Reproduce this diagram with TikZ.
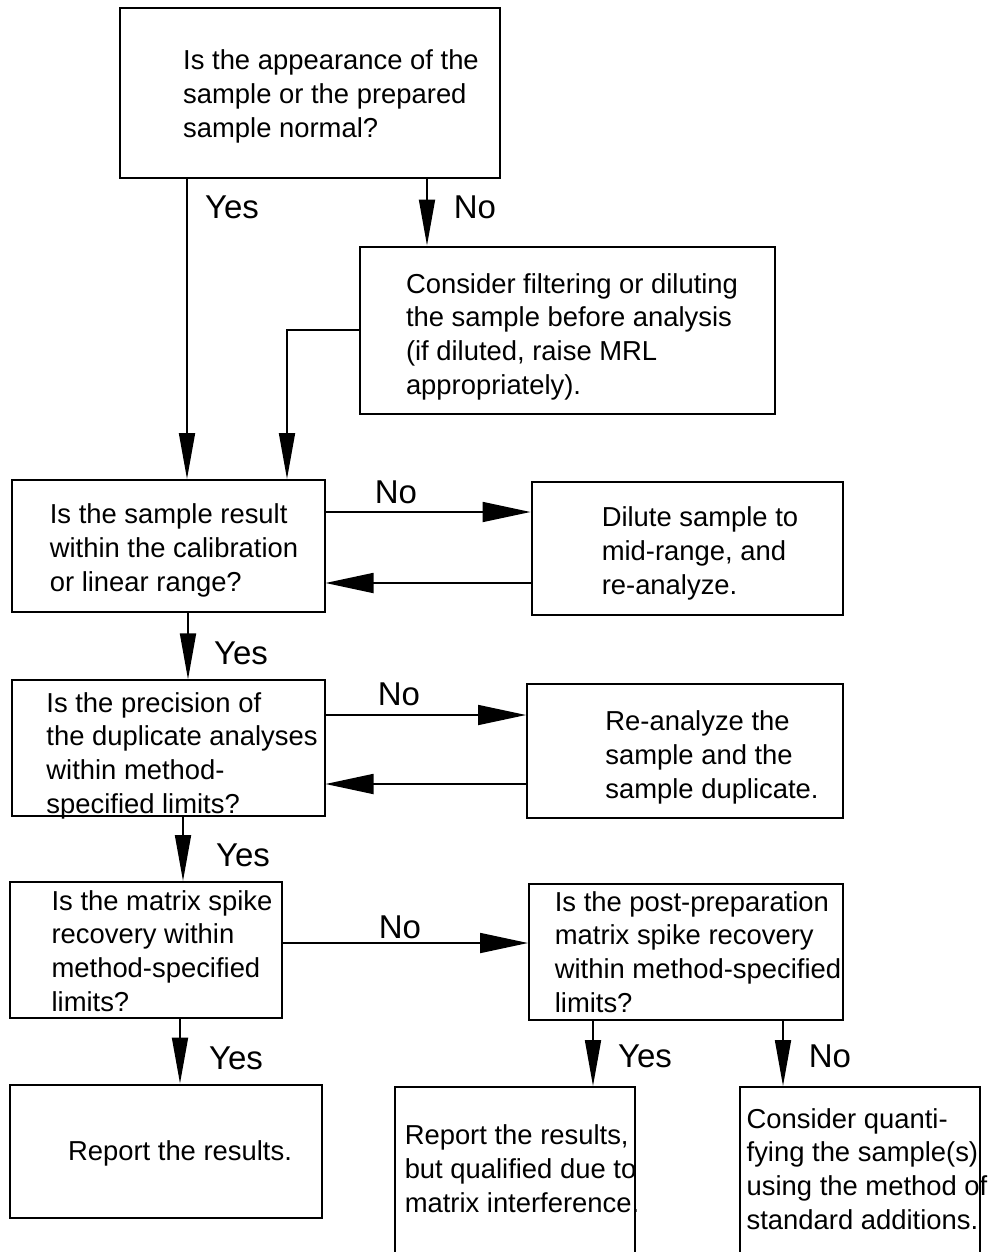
\documentclass[tikz,border=0pt]{standalone}
\usepackage{fontspec}
\setmainfont{Liberation Sans}
\usetikzlibrary{arrows.meta}
% text block in a box, moved right by #1 and down by #2
\newcommand{\boxtext}[3]{\hspace*{#1}\raisebox{-#2}[\height][\depth]{\begin{tabular}{@{}l@{}}#3\end{tabular}}\hspace*{-#1}}

\begin{document}
\begin{tikzpicture}[x=0.5pt, y=-0.5pt,
		box/.style = {draw, line width=1pt, inner sep=0pt, font=\fontsize{13.7}{16.9}\selectfont},
		arr/.style = {line width=0.9pt, -{Triangle[length=23pt,width=8pt]}},
		harr/.style = {line width=0.9pt, -{Triangle[length=24pt,width=10pt]}},
		lbl/.style = {font=\fontsize{16.5}{19}\selectfont}]
	\useasboundingbox (0,0) rectangle (992,1252);
	\clip (0,0) rectangle (992,1252);
	% questions on the left, actions on the right
	\node[box, minimum width=190pt, minimum height=85pt] (appear) at (310,93) {\boxtext{10.5pt}{2pt}{Is the appearance of the\\sample or the prepared\\sample normal?}};
	\node[box, minimum width=207.5pt, minimum height=83.5pt] (filter) at (567,330) {\boxtext{2.5pt}{3.5pt}{Consider filtering or diluting\\the sample before analysis\\(if diluted, raise MRL\\appropriately).}};
	\node[box, minimum width=156.5pt, minimum height=66pt] (range) at (168,546) {\boxtext{3pt}{2.5pt}{Is the sample result\\within the calibration\\or linear range?}};
	\node[box, minimum width=155.5pt, minimum height=66.5pt] (dilute) at (687,548) {\boxtext{6.5pt}{3pt}{Dilute sample to\\mid-range, and\\re-analyze.}};
	\node[box, minimum width=156.5pt, minimum height=66.5pt] (precis) at (168,748) {\boxtext{7pt}{4pt}{Is the precision of\\the duplicate analyses\\within method-\\specified limits?}};
	\node[box, minimum width=158pt, minimum height=67pt] (reanal) at (685,751) {\boxtext{13.5pt}{3.5pt}{Re-analyze the\\sample and the\\sample duplicate.}};
	\node[box, minimum width=136pt, minimum height=68pt] (spike) at (146,950) {\boxtext{8pt}{2pt}{Is the matrix spike\\recovery within\\method-specified\\limits?}};
	\node[box, minimum width=157pt, minimum height=68pt] (postspike) at (686,952) {\boxtext{6pt}{1.5pt}{Is the post-preparation\\matrix spike recovery\\within method-specified\\limits?}};
	\node[box, minimum width=156pt, minimum height=66.5pt] (report) at (166,1151) {\boxtext{7pt}{1.5pt}{Report the results.}};
	\node[box, minimum width=120pt, minimum height=85pt] (qualif) at (515,1172) {\boxtext{3.5pt}{0pt}{Report the results,\\but qualified due to\\matrix interference.}};
	\node[box, minimum width=118.5pt, minimum height=85pt] (stdadd) at (860,1172) {\boxtext{3.5pt}{0pt}{Consider quanti-\\fying the sample(s)\\using the method of\\standard additions.}};

	\draw[arr] (187,0 |- appear.south) -- (187,0 |- range.north);
	\node[lbl] (y1) at (232,207) {Yes};
	\draw[arr] (427,0 |- appear.south) -- (427,0 |- filter.north);
	\node[lbl] (n1) at (475,207) {No};
	\draw[arr] (filter.west) -| (287,0 |- range.north);

	\draw[harr] (range.east |- 0,512) -- (dilute.west |- 0,512);
	\node[lbl] (n2) at (396,492) {No};
	\draw[harr] (dilute.west |- 0,583) -- (range.east |- 0,583);
	\draw[arr] (188,0 |- range.south) -- (188,0 |- precis.north);
	\node[lbl] (y2) at (241,653) {Yes};

	\draw[harr] (precis.east |- 0,715) -- (reanal.west |- 0,715);
	\node[lbl] (n3) at (399,694) {No};
	\draw[harr] (reanal.west |- 0,784) -- (precis.east |- 0,784);
	\draw[arr] (183,0 |- precis.south) -- (183,0 |- spike.north);
	\node[lbl] (y3) at (243,855) {Yes};

	\draw[harr] (spike.east |- 0,943) -- (postspike.west |- 0,943);
	\node[lbl] (n4) at (400,927) {No};
	\draw[arr] (180,0 |- spike.south) -- (180,0 |- report.north);
	\node[lbl] (y4) at (236,1058) {Yes};
	\draw[arr] (593,0 |- postspike.south) -- (593,0 |- qualif.north);
	\node[lbl] (y5) at (645,1056) {Yes};
	\draw[arr] (783,0 |- postspike.south) -- (783,0 |- stdadd.north);
	\node[lbl] (n5) at (830,1056) {No};
\end{tikzpicture}
\end{document}
